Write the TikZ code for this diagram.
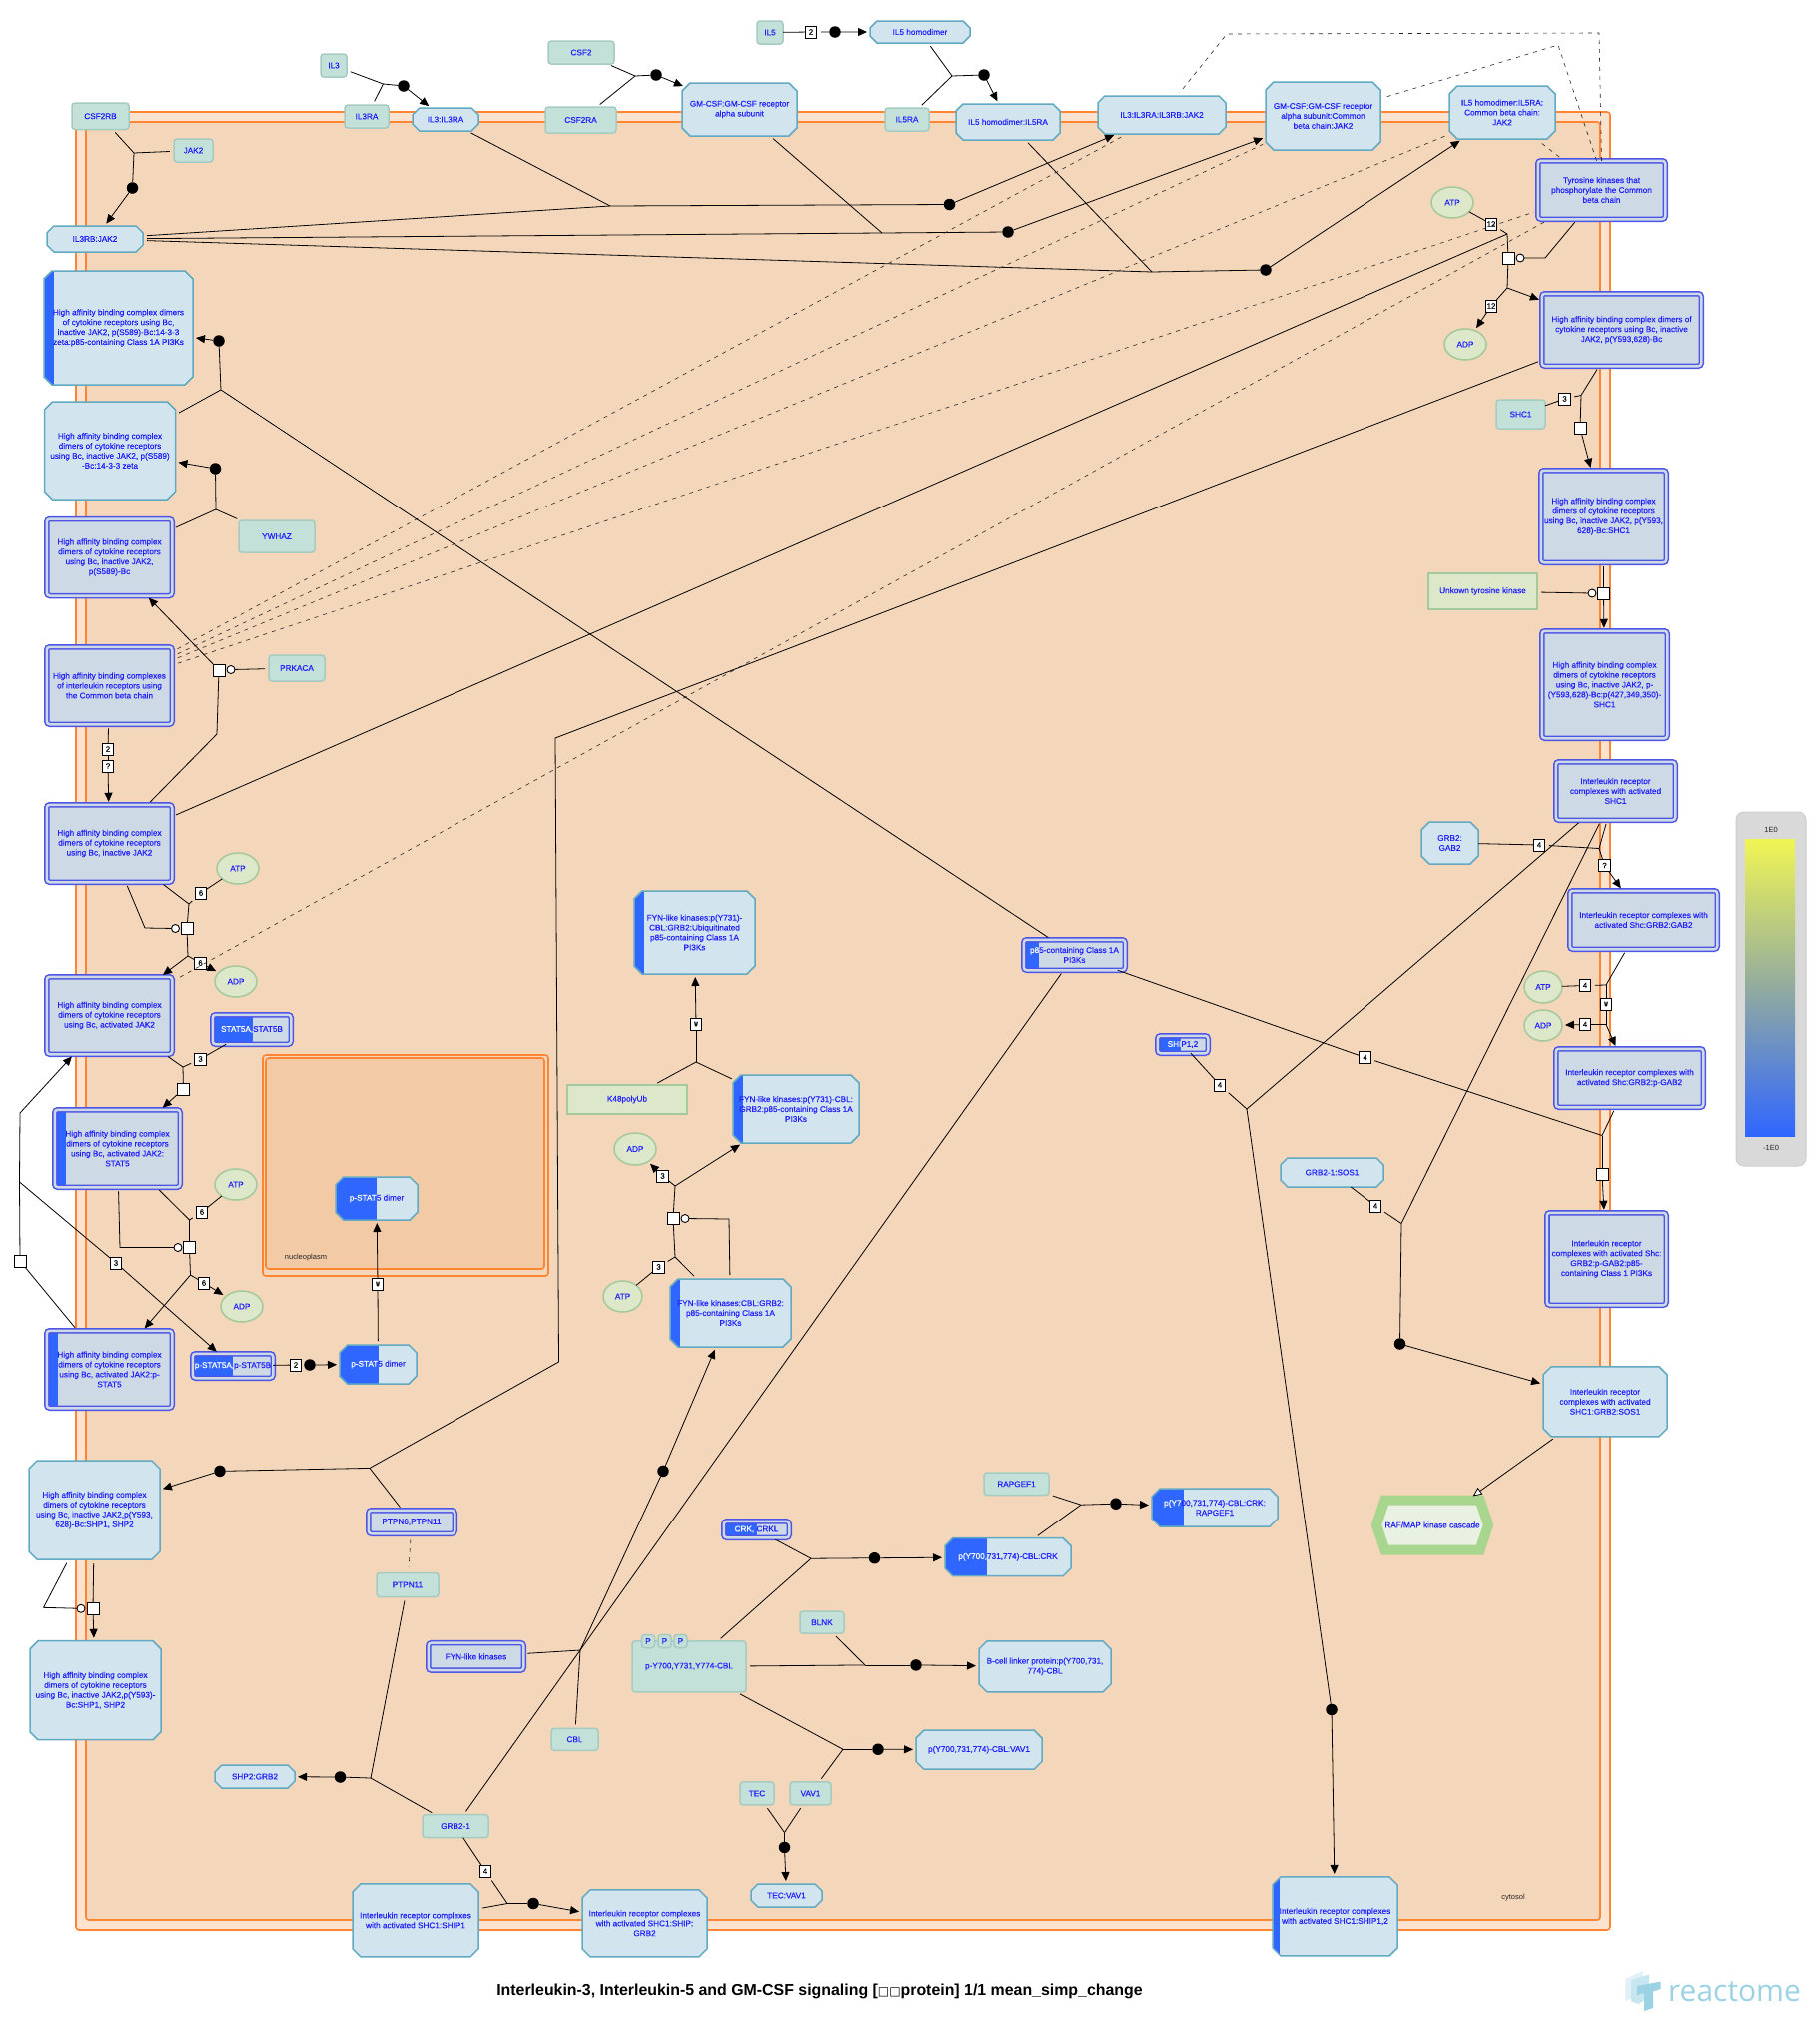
\documentclass[tikz,border=0pt]{standalone}
\usepackage{fontspec}
\usetikzlibrary{arrows.meta, shapes.geometric, shapes.misc, shapes.symbols}
\newfontfamily\lblfont[FakeBold=0.5]{Liberation Sans}
\newfontfamily\numfont[FakeBold=0.3]{Liberation Sans}
\newfontfamily\plainfont{Liberation Sans}
\newfontfamily\tofufont{DejaVu Sans}
\newfontfamily\logofont{Open Sans}
\definecolor{lblblue}{HTML}{2222FF}
\definecolor{stripeblue}{HTML}{2F66FF}
\definecolor{cplxfill}{HTML}{D2E5EF}
\definecolor{cplxline}{HTML}{62A9C2}
\definecolor{protfill}{HTML}{C3E0D9}
\definecolor{protline}{HTML}{A6CBC1}
\definecolor{chemfill}{HTML}{DDE7C9}
\definecolor{chemline}{HTML}{A4C99B}
\definecolor{csetfill}{HTML}{CDD9E4}
\definecolor{csetline}{HTML}{4D55E6}
\definecolor{compline}{HTML}{FF8533}
\definecolor{compfill}{HTML}{F4D6BA}
\definecolor{ringfill}{HTML}{FCE3CF}
\definecolor{nucfill}{HTML}{F3CAA6}
\definecolor{logoblue}{HTML}{9BD2E4}
\definecolor{rafline}{HTML}{A8D68F}
\definecolor{raffill}{HTML}{E9F2E2}
\definecolor{legtopc}{HTML}{F0F555}
\definecolor{legmidc}{HTML}{92AB9F}
\newcommand{\lbltext}{\lblfont\fontsize{8.2}{9.9}\selectfont}
\begin{document}
\begin{tikzpicture}[x=1pt, y=-1pt, inner sep=0pt, outer sep=0pt,
    sz/.style 2 args={minimum width=#1pt, minimum height=#2pt},
    csz/.style 2 args={minimum width=#1pt-5.5pt, minimum height=#2pt-5.5pt},
    stripe/.style={path picture={\fill[stripeblue] (path picture bounding box.north west) rectangle ([xshift=#1pt]path picture bounding box.south west);}}]
    \tikzstyle{base} = [align=center, font=\lbltext, text=lblblue]
    \tikzstyle{prot} = [base, draw=protline, fill=protfill, line width=1.5pt, rounded corners=3pt]
    \tikzstyle{cplx} = [base, chamfered rectangle, chamfered rectangle sep=4pt, draw=cplxline, fill=cplxfill, line width=1.5pt]
    \tikzstyle{cset} = [base, draw=csetline, fill=csetfill, double=csetfill, double distance=2.5pt, line width=1.5pt, rounded corners=3pt]
    \tikzstyle{chem} = [base, ellipse, draw=chemline, fill=chemfill, line width=1.5pt]
    \tikzstyle{othr} = [base, draw=chemline, fill=chemfill, line width=1.5pt]
    \tikzstyle{num} = [draw=black, fill=white, line width=0.9pt, minimum width=11.5pt, minimum height=12pt, font=\numfont\fontsize{7.8}{8}\selectfont]
    \tikzstyle{sq} = [draw=black, fill=white, line width=0.9pt, minimum size=12pt]
    \tikzstyle{dot} = [circle, fill=black, minimum size=11.5pt]
    \tikzstyle{cat} = [circle, draw=black, fill=white, line width=0.9pt, minimum size=8pt]
    \tikzstyle{rx} = [line width=0.8pt]
    \tikzstyle{ln} = [line width=0.8pt, shorten <=4pt]
    \tikzstyle{arw} = [line width=0.8pt, -{Triangle[length=9pt,width=8pt]}, shorten >=3pt]
    \tikzstyle{dsh} = [line width=0.6pt, dash pattern=on 4pt off 5pt, black!85, shorten <=6pt, shorten >=4pt]
    \tikzstyle{caplbl} = [font=\plainfont\fontsize{7.5}{9}\selectfont, text=black!85]

    \useasboundingbox (0,0) rectangle (1822,2030);

    % Compartments
    \node[draw=compline, fill=ringfill, line width=1.6pt, rounded corners=3pt, sz={1536}{1820}] (cytout) at (844,1022) {};
    \node[draw=compline, fill=compfill, line width=1.6pt, rounded corners=3pt, sz={1516}{1800}] (cytin) at (844,1022) {};
    \node[draw=compline, fill=compfill, line width=1.6pt, rounded corners=3pt, sz={286}{221}] (nucout) at (406,1166.5) {};
    \node[draw=compline, fill=nucfill, line width=1.6pt, rounded corners=3pt, sz={279}{211}] (nucin) at (405.5,1164.5) {};
    \node[caplbl] (cytlbl) at (1515,1900) {cytosol};
    \node[caplbl] (nuclbl) at (306,1259) {nucleoplasm};

    % Proteins
    \node[prot, sz={57}{26.5}] (csf2rb) at (100.5,116.25) {CSF2RB};
    \node[prot, sz={39}{23}] (jak2) at (193.5,150.5) {JAK2};
    \node[prot, sz={26}{23}] (il3) at (334,65.5) {IL3};
    \node[prot, sz={44}{23}] (il3ra) at (367,116.5) {IL3RA};
    \node[prot, sz={66}{23}] (csf2) at (582,52.5) {CSF2};
    \node[prot, sz={71}{26}] (csf2ra) at (581.5,120) {CSF2RA};
    \node[prot, sz={26}{23}] (il5) at (771,32.5) {IL5};
    \node[prot, sz={44}{23}] (il5ra) at (908,119.5) {IL5RA};
    \node[prot, sz={76}{32}] (ywhaz) at (277,537) {YWHAZ};
    \node[prot, sz={56}{26}] (prkaca) at (297,669) {PRKACA};
    \node[prot, sz={49}{29}] (shc1) at (1522.5,414.5) {SHC1};
    \node[prot, sz={62}{24}] (ptpn11) at (408,1586.5) {PTPN11};
    \node[prot, sz={44}{22}] (blnk) at (823,1624.2) {BLNK};
    \node[prot, sz={47}{22}] (cbl) at (575.5,1741.3) {CBL};
    \node[prot, sz={66}{23}] (grbone) at (456,1828.1) {GRB2-1};
    \node[prot, sz={34}{23}] (tec) at (758,1795.4) {TEC};
    \node[prot, sz={41}{23}] (vav1) at (811.5,1795.4) {VAV1};
    \node[prot, sz={65}{22.5}] (rapgef) at (1017.5,1485.3) {RAPGEF1};
    \node[prot, sz={114}{51}] (pcbl) at (690,1668.4) {p-Y700,Y731,Y774-CBL};
    \node[prot, sz={13}{13}] (pa) at (649,1643) {P};
    \node[prot, sz={13}{13}] (pb) at (665.5,1643) {P};
    \node[prot, sz={13}{13}] (pc) at (681.5,1643) {P};

    % Complexes
    \node[cplx, sz={66}{23}] (il3il3ra) at (446,119.5) {IL3:IL3RA};
    \node[cplx, sz={115}{53}] (gmcsf) at (740.5,109.5) {GM-CSF:GM-CSF receptor\\alpha subunit};
    \node[cplx, sz={100}{22}] (il5hom) at (921,32) {IL5 homodimer};
    \node[cplx, sz={96}{26}] (il3rb) at (95,239) {IL3RB:JAK2};
    \node[cplx, sz={104}{36}] (il5il5ra) at (1009,122) {IL5 homodimer:IL5RA};
    \node[cplx, sz={128}{38}] (iljak) at (1163,115) {IL3:IL3RA:IL3RB:JAK2};
    \node[cplx, sz={115}{68}] (gmjak) at (1324.5,116) {GM-CSF:GM-CSF receptor\\alpha subunit:Common\\beta chain:JAK2};
    \node[cplx, sz={106}{53}] (il5jak) at (1504,112.5) {IL5 homodimer:IL5RA:\\Common beta chain:\\JAK2};
    \node[cplx, sz={149}{114}, stripe=10] (ha3pi) at (118.5,328) {High affinity binding complex dimers\\of cytokine receptors using Bc,\\inactive JAK2, p(S589)-Bc:14-3-3\\zeta:p85-containing Class 1A PI3Ks};
    \node[cplx, sz={131}{98}] (ha14) at (110,451) {High affinity binding complex\\dimers of cytokine receptors\\using Bc, inactive JAK2, p(S589)\\-Bc:14-3-3 zeta};
    \node[cplx, sz={57}{42}] (grbgab) at (1451.5,844) {GRB2:\\GAB2};
    \node[cplx, sz={103}{29}] (sos) at (1333.5,1173.5) {GRB2-1:SOS1};
    \node[cplx, sz={124}{70}] (sossh) at (1607,1402.8) {Interleukin receptor\\complexes with activated\\SHC1:GRB2:SOS1};
    \node[cplx, sz={121}{83}, stripe=10] (fynub) at (695.5,933.5) {FYN-like kinases:p(Y731)-\\CBL:GRB2:Ubiquitinated\\p85-containing Class 1A\\PI3Ks};
    \node[cplx, sz={126}{68}, stripe=10] (fynp85) at (797,1110) {FYN-like kinases:p(Y731)-CBL:\\GRB2:p85-containing Class 1A\\PI3Ks};
    \node[cplx, sz={121}{68}, stripe=10] (fyncbl) at (731.5,1314) {FYN-like kinases:CBL:GRB2:\\p85-containing Class 1A\\PI3Ks};
    \node[cplx, sz={77}{39}, stripe=39] (pst1) at (378.5,1365.5) {\textcolor{white}{p-STAT}5 dimer};
    \node[cplx, sz={82}{43}, stripe=41] (pstn) at (377,1199.5) {\textcolor{white}{p-STAT}5 dimer};
    \node[cplx, sz={131}{99}] (hashp) at (94.5,1511.6) {High affinity binding complex\\dimers of cytokine receptors\\using Bc, inactive JAK2,p(Y593,\\628)-Bc:SHP1, SHP2};
    \node[cplx, sz={131}{99}] (hay593) at (95.5,1692.2) {High affinity binding complex\\dimers of cytokine receptors\\using Bc, inactive JAK2,p(Y593)-\\Bc:SHP1, SHP2};
    \node[cplx, sz={80}{23}] (shpgrb) at (255,1778.5) {SHP2:GRB2};
    \node[cplx, sz={71}{23}] (tecvav) at (787.5,1897.5) {TEC:VAV1};
    \node[cplx, sz={126}{73}] (irship1) at (416,1922.3) {Interleukin receptor complexes\\with activated SHC1:SHIP1};
    \node[cplx, sz={125}{67}] (irshipg) at (645.5,1925.3) {Interleukin receptor complexes\\with activated SHC1:SHIP:\\GRB2};
    \node[cplx, sz={126}{38}, stripe=32] (rapcx) at (1216,1509.1) {\textcolor{white}{p(Y7}00,731,774)-CBL:CRK:\\RAPGEF1};
    \node[cplx, sz={126}{38}, stripe=42] (crkcx) at (1009,1558.7) {\textcolor{white}{p(Y700,}731,774)-CBL:CRK};
    \node[cplx, sz={132}{51}] (blcx) at (1046,1668.4) {B-cell linker protein:p(Y700,731,\\774)-CBL};
    \node[cplx, sz={126}{39}] (vavcx) at (980,1751.7) {p(Y700,731,774)-CBL:VAV1};
    \node[cplx, sz={125}{79}, stripe=7] (irship12) at (1336.5,1918.4) {Interleukin receptor complexes\\with activated SHC1:SHIP1,2};

    % Sets
    \node[cset, csz={131}{82.5}] (hap) at (109.5,558) {High affinity binding complex\\dimers of cytokine receptors\\using Bc, inactive JAK2,\\p(S589)-Bc};
    \node[cset, csz={131}{83}] (hacom) at (109.5,686.5) {High affinity binding complexes\\of interleukin receptors using\\the Common beta chain};
    \node[cset, csz={133}{64}] (tyr) at (1603.5,190) {Tyrosine kinases that\\phosphorylate the Common\\beta chain};
    \node[cset, csz={165}{78}] (hay6) at (1623.5,330) {High affinity binding complex dimers of\\cytokine receptors using Bc, inactive\\JAK2, p(Y593,628)-Bc};
    \node[cset, csz={131}{98}] (hashc) at (1605.5,517) {High affinity binding complex\\dimers of cytokine receptors\\using Bc, inactive JAK2, p(Y593,\\628)-Bc:SHC1};
    \node[cset, csz={131}{113}] (hap4) at (1606.5,685.5) {High affinity binding complex\\dimers of cytokine receptors\\using Bc, inactive JAK2, p-\\(Y593,628)-Bc:p(427,349,350)-\\SHC1};
    \node[cset, csz={125}{64}] (irshc) at (1617.5,792) {Interleukin receptor\\complexes with activated\\SHC1};
    \node[cset, csz={153}{64}] (irgab) at (1645.5,921) {Interleukin receptor complexes with\\activated Shc:GRB2:GAB2};
    \node[cset, csz={153}{64}] (irpg) at (1631.5,1079) {Interleukin receptor complexes with\\activated Shc:GRB2:p-GAB2};
    \node[cset, csz={107}{36}, stripe=15] (p85) at (1075.5,956) {\textcolor{white}{p8}5-containing Class 1A\\PI3Ks};
    \node[cset, csz={56}{23}, stripe=23] (ship12) at (1184,1045.5) {\textcolor{white}{SHI}P1,2};
    \node[cset, csz={125}{98}, stripe=3] (irpi) at (1608.5,1260) {Interleukin receptor\\complexes with activated Shc:\\GRB2:p-GAB2:p85-\\containing Class 1 PI3Ks};
    \node[cset, csz={131}{83}] (hain) at (109.5,844.5) {High affinity binding complex\\dimers of cytokine receptors\\using Bc, inactive JAK2};
    \node[cset, csz={131}{83}] (haact) at (109.5,1016.5) {High affinity binding complex\\dimers of cytokine receptors\\using Bc, activated JAK2};
    \node[cset, csz={84}{35}, stripe=40] (stat) at (252,1030.5) {\textcolor{white}{STAT5A,}STAT5B};
    \node[cset, csz={131}{83}, stripe=11] (hast) at (117.5,1149.5) {High affinity binding complex\\dimers of cytokine receptors\\using Bc, activated JAK2:\\STAT5};
    \node[cset, csz={131}{83}, stripe=11] (hapst) at (109.5,1370.5) {High affinity binding complex\\dimers of cytokine receptors\\using Bc, activated JAK2:p-\\STAT5};
    \node[cset, csz={86}{30}, stripe=40] (pstat) at (233,1367) {\textcolor{white}{p-STAT5A,}p-STAT5B};
    \node[cset, csz={92}{29}] (ptpn6) at (412,1523.5) {PTPN6,PTPN11};
    \node[cset, csz={101}{33}] (fyn) at (476.5,1658.4) {FYN-like kinases};
    \node[cset, csz={71}{22}, stripe=33] (crk) at (757.5,1531) {\textcolor{white}{CRK,} CRKL};

    % Chemicals and others
    \node[chem, sz={42}{31}] (atpa) at (1454,202.5) {ATP};
    \node[chem, sz={42}{31}] (adpa) at (1467,344.5) {ADP};
    \node[chem, sz={42}{31}] (atpb) at (238,869.5) {ATP};
    \node[chem, sz={42}{31}] (adpb) at (236,982.5) {ADP};
    \node[chem, sz={42}{31}] (atpc) at (236,1185.5) {ATP};
    \node[chem, sz={42}{31}] (adpc) at (242,1307.5) {ADP};
    \node[chem, sz={42}{32}] (adpd) at (636,1150) {ADP};
    \node[chem, sz={39}{31}] (atpd) at (623.5,1297.5) {ATP};
    \node[chem, sz={38}{32}] (atpe) at (1545,988) {ATP};
    \node[chem, sz={38}{31}] (adpe) at (1545,1026.5) {ADP};
    \node[othr, sz={109}{36}] (unk) at (1484.5,592) {Unkown tyrosine kinase};
    \node[othr, sz={120}{29}] (k48) at (628,1100.5) {K48polyUb};
    \node[base, shape=signal, signal to=east and west, signal pointer angle=143, draw=rafline, fill=raffill, line width=10pt, sz={112}{50}] (raf) at (1434,1526.5) {RAF/MAP kinase cascade};

    % Reaction dots
    \node[dot] (d1) at (404,86) {};
    \node[dot] (d2) at (657,75) {};
    \node[dot] (d3) at (836,32) {};
    \node[dot] (d4) at (985,75) {};
    \node[dot] (d5) at (132.5,188) {};
    \node[dot] (d6) at (950.5,204.5) {};
    \node[dot] (d7) at (1009,232) {};
    \node[dot] (d8) at (1267,270) {};
    \node[dot] (d9) at (215.5,469) {};
    \node[dot] (d10) at (219,341) {};
    \node[dot] (d11) at (1333,1711.5) {};
    \node[dot] (d12) at (1401.5,1345) {};
    \node[dot] (d13) at (220,1472.4) {};
    \node[dot] (d14) at (310,1366) {};
    \node[dot] (d15) at (664,1472.4) {};
    \node[dot] (d16) at (340.5,1779) {};
    \node[dot] (d17) at (534,1905.5) {};
    \node[dot] (d18) at (875.5,1559.7) {};
    \node[dot] (d19) at (1117,1505.2) {};
    \node[dot] (d20) at (917,1666.9) {};
    \node[dot] (d21) at (879,1751.2) {};
    \node[dot] (d22) at (785.5,1849.4) {};

    % Reaction squares and catalyst circles
    \node[sq] (sq1) at (219,671) {};
    \node[sq] (sq2) at (1510,258) {};
    \node[sq] (sq3) at (1582,428.5) {};
    \node[sq] (sq4) at (1605.5,594) {};
    \node[sq] (sq5) at (1604,1175.5) {};
    \node[sq] (sq6) at (187,929.5) {};
    \node[sq] (sq7) at (183.5,1090) {};
    \node[sq] (sq8) at (189.5,1248.5) {};
    \node[sq] (sq9) at (20,1262) {};
    \node[sq] (sq10) at (674,1219.5) {};
    \node[sq] (sq11) at (93,1610.3) {};
    \node[cat] (c1) at (231,670.5) {};
    \node[cat] (c2) at (1522,258) {};
    \node[cat] (c3) at (1594,594) {};
    \node[cat] (c4) at (175.5,929.5) {};
    \node[cat] (c5) at (178,1248.5) {};
    \node[cat] (c6) at (686,1219.5) {};
    \node[cat] (c7) at (81,1610.3) {};

    % Stoichiometry boxes
    \node[num] (n1) at (812,32) {2};
    \node[num] (n2) at (108,750) {2};
    \node[num] (n3) at (108,767) {?};
    \node[num] (n4) at (1493,224) {12};
    \node[num] (n5) at (1493,306) {12};
    \node[num] (n6) at (1566.5,399) {3};
    \node[num] (n7) at (1541,846) {4};
    \node[num] (n8) at (1606.5,866.5) {?};
    \node[num] (n9) at (1587,986.5) {4};
    \node[num] (n10) at (1608,1005) {\scalebox{0.45}[0.9]{W}};
    \node[num] (n11) at (1587,1025.5) {4};
    \node[num] (n12) at (1366.5,1058.5) {4};
    \node[num] (n13) at (1221,1086) {4};
    \node[num] (n14) at (1377,1207) {4};
    \node[num] (n15) at (201,894) {6};
    \node[num] (n16) at (200.5,964) {6};
    \node[num] (n17) at (200.5,1060) {3};
    \node[num] (n18) at (202,1213) {6};
    \node[num] (n19) at (204,1284) {6};
    \node[num] (n20) at (116,1264) {3};
    \node[num] (n21) at (296,1366) {2};
    \node[num] (n22) at (378,1285) {\scalebox{0.45}[0.9]{W}};
    \node[num] (n23) at (697,1025) {\scalebox{0.45}[0.9]{W}};
    \node[num] (n24) at (659.5,1268) {3};
    \node[num] (n25) at (663.5,1177) {3};
    \node[num] (n26) at (486,1873.2) {4};

    % Junctions
    \coordinate (j1) at (383.5,84);
    \coordinate (j2) at (636,76);
    \coordinate (j3) at (953,76);
    \coordinate (j4) at (134,153);
    \coordinate (j5) at (611,206);
    \coordinate (j6) at (883,233);
    \coordinate (j7) at (1153,272);
    \coordinate (j8) at (216,510);
    \coordinate (j9) at (221,390);
    \coordinate (j10) at (217,735);
    \coordinate (j11) at (1509,234);
    \coordinate (j12) at (1547,258);
    \coordinate (j13) at (1509,288);
    \coordinate (j14) at (1583,395.5);
    \coordinate (j15) at (1601,849.5);
    \coordinate (j16) at (1608,986);
    \coordinate (j17) at (1608,1025.5);
    \coordinate (j18) at (1604,1136.5);
    \coordinate (j19) at (1248,1110);
    \coordinate (j20) at (1403,1224.5);
    \coordinate (j21) at (370,1469.4);
    \coordinate (j22) at (556,739);
    \coordinate (j23) at (559.5,1363);
    \coordinate (j24) at (189,905);
    \coordinate (j25) at (188,957);
    \coordinate (j26) at (145,929);
    \coordinate (j27) at (183,1068);
    \coordinate (j28) at (189.5,1221);
    \coordinate (j29) at (190.5,1276);
    \coordinate (j30) at (120,1248.5);
    \coordinate (j31) at (20,1114);
    \coordinate (j32) at (19.5,1183);
    \coordinate (j33) at (697,1063);
    \coordinate (j34) at (676,1258);
    \coordinate (j35) at (676,1187);
    \coordinate (j36) at (730,1220);
    \coordinate (j37) at (581,1652);
    \coordinate (j38) at (371,1780);
    \coordinate (j39) at (508,1905.5);
    \coordinate (j40) at (812,1560.2);
    \coordinate (j41) at (1082,1506.2);
    \coordinate (j42) at (866,1666.9);
    \coordinate (j43) at (844,1751.2);
    \coordinate (j44) at (785.5,1834.5);
    \coordinate (j45) at (1601,33);
    \coordinate (j46) at (1228,34);
    \coordinate (j47) at (1560,45);
    \coordinate (j48) at (43.5,1609.3);

    % Receptor assembly
    \draw[ln] (il3) -- (j1);
    \draw[ln] (il3ra) -- (j1);
    \draw[rx] (j1) -- (d1);
    \draw[arw] (d1) -- (il3il3ra);
    \draw[ln] (csf2) -- (j2);
    \draw[ln] (csf2ra) -- (j2);
    \draw[rx] (j2) -- (d2);
    \draw[arw] (d2) -- (gmcsf);
    \draw[ln] (il5) -- (n1) -- (d3);
    \draw[arw] (d3) -- (il5hom);
    \draw[ln] (il5hom) -- (j3);
    \draw[ln] (il5ra) -- (j3);
    \draw[rx] (j3) -- (d4);
    \draw[arw] (d4) -- (il5il5ra);
    \draw[ln] (csf2rb) -- (j4);
    \draw[ln] (jak2) -- (j4);
    \draw[rx] (j4) -- (d5);
    \draw[arw] (d5) -- (il3rb);
    \draw[ln] (il3rb) -- (j5);
    \draw[ln] (il3il3ra) -- (j5);
    \draw[rx] (j5) -- (d6);
    \draw[arw] (d6) -- (iljak);
    \draw[ln] (il3rb) -- (j6);
    \draw[ln] (gmcsf) -- (j6);
    \draw[rx] (j6) -- (d7);
    \draw[arw] (d7) -- (gmjak);
    \draw[ln] (il3rb) -- (j7);
    \draw[ln] (il5il5ra) -- (j7);
    \draw[rx] (j7) -- (d8);
    \draw[arw] (d8) -- (il5jak);

    % Catalyst links
    \draw[dsh] (hacom) -- (iljak);
    \draw[dsh] (hacom) -- (gmjak);
    \draw[dsh] (hacom) -- (il5jak);
    \draw[dsh] (hacom) -- (tyr);
    \draw[dsh] (tyr) -- (haact);
    \draw[dsh] (tyr) -- (il5jak);
    \draw[dsh, shorten <=0pt] (tyr.north) -- (j45) -- (j46) -- (iljak);
    \draw[dsh, shorten <=0pt] ([xshift=-5pt]tyr.north) -- (j47) -- (gmjak);
    \draw[dsh, shorten >=6pt] (ptpn6) -- (ptpn11);

    % Common beta chain, left column
    \draw[ln] (hap) -- (j8);
    \draw[ln] (ywhaz) -- (j8);
    \draw[rx] (j8) -- (d9);
    \draw[arw] (d9) -- (ha14);
    \draw[ln] (ha14) -- (j9);
    \draw[ln] (p85) -- (j9);
    \draw[rx] (j9) -- (d10);
    \draw[arw] (d10) -- (ha3pi);
    \draw[ln] (hain) -- (j10) -- (sq1);
    \draw[ln] (prkaca) -- (c1);
    \draw[arw] (sq1) -- (hap);
    \draw[ln] (hacom) -- (n2);
    \draw[rx] (n2) -- (n3);
    \draw[arw] (n3) -- (hain);
    \draw[ln] (hain) -- (j24);
    \draw[ln] (atpb) -- (n15) -- (j24);
    \draw[rx] (j24) -- (sq6) -- (j25);
    \draw[ln] (hain) -- (j26) -- (c4);
    \draw[arw] (j25) -- (haact);
    \draw[rx] (j25) -- (n16);
    \draw[arw] (n16) -- (adpb);
    \draw[ln] (stat) -- (n17) -- (j27);
    \draw[ln] (haact) -- (j27);
    \draw[rx] (j27) -- (sq7);
    \draw[arw] (sq7) -- (hast);
    \draw[ln] (hast) -- (j28);
    \draw[ln] (atpc) -- (n18) -- (j28);
    \draw[rx] (j28) -- (sq8) -- (j29);
    \draw[ln] (hast) -- (j30) -- (c5);
    \draw[arw] (j29) -- (hapst);
    \draw[rx] (j29) -- (n19);
    \draw[arw] (n19) -- (adpc);
    \draw[ln] (hapst) -- (sq9);
    \draw[rx] (sq9) -- (j32) -- (j31);
    \draw[arw] (j31) -- (haact);
    \draw[rx] (j32) -- (n20);
    \draw[arw] (n20) -- (pstat);
    \draw[ln] (pstat) -- (n21) -- (d14);
    \draw[arw] (d14) -- (pst1);
    \draw[ln] (pst1) -- (n22);
    \draw[arw] (n22) -- (pstn);

    % Right column
    \draw[ln] (hain) -- (j11);
    \draw[ln] (atpa) -- (n4) -- (j11);
    \draw[rx] (j11) -- (sq2) -- (j13);
    \draw[ln] (tyr) -- (j12) -- (c2);
    \draw[arw] (j13) -- (hay6);
    \draw[rx] (j13) -- (n5);
    \draw[arw] (n5) -- (adpa);
    \draw[ln] (hay6) -- (j14);
    \draw[ln] (shc1) -- (n6) -- (j14);
    \draw[rx] (j14) -- (sq3);
    \draw[arw] (sq3) -- (hashc);
    \draw[ln] (unk) -- (c3);
    \draw[ln] (hashc) -- (sq4);
    \draw[arw] (sq4) -- (hap4);
    \draw[ln] (grbgab) -- (n7) -- (j15);
    \draw[ln] (irshc) -- (j15);
    \draw[rx] (j15) -- (n8);
    \draw[arw] (n8) -- (irgab);
    \draw[ln] (irgab) -- (j16);
    \draw[ln] (atpe) -- (n9) -- (j16);
    \draw[rx] (j16) -- (n10) -- (j17);
    \draw[rx] (j17) -- (n11);
    \draw[arw] (n11) -- (adpe);
    \draw[arw] (j17) -- (irpg);
    \draw[ln] (p85) -- (n12) -- (j18);
    \draw[ln] (irpg) -- (j18);
    \draw[rx] (j18) -- (sq5);
    \draw[arw] (sq5) -- (irpi);
    \draw[ln] (ship12) -- (n13) -- (j19);
    \draw[ln] (irshc) -- (j19);
    \draw[rx] (j19) -- (d11);
    \draw[arw] (d11) -- (irship12);
    \draw[ln] (sos) -- (n14) -- (j20);
    \draw[ln] (irshc) -- (j20);
    \draw[rx] (j20) -- (d12);
    \draw[arw] (d12) -- (sossh);
    \draw[line width=0.8pt, shorten <=4pt, shorten >=7pt, -{Triangle[open, fill=white, length=9pt, width=8pt]}] (sossh) -- (raf);

    % SHP and FYN branch
    \draw[ln] (hay6) -- (j22) -- (j23) -- (j21);
    \draw[ln] (ptpn6) -- (j21);
    \draw[rx] (j21) -- (d13);
    \draw[arw] (d13) -- (hashp);
    \draw[ln] (hashp) -- (sq11);
    \draw[arw] (sq11) -- (hay593);
    \draw[ln] (hashp) -- (j48) -- (c7);
    \draw[ln] (fynp85) -- (j33);
    \draw[ln] (k48) -- (j33);
    \draw[rx] (j33) -- (n23);
    \draw[arw] (n23) -- (fynub);
    \draw[ln] (fyncbl) -- (j34);
    \draw[ln] (atpd) -- (n24) -- (j34);
    \draw[rx] (j34) -- (sq10) -- (j35);
    \draw[ln] (fyncbl) -- (j36) -- (c6);
    \draw[arw] (j35) -- (fynp85);
    \draw[rx] (j35) -- (n25);
    \draw[arw] (n25) -- (adpd);
    \draw[ln] (fyn) -- (j37);
    \draw[ln] (cbl) -- (j37);
    \draw[ln] (grbone) -- (j37);
    \draw[ln] (p85) -- (j37);
    \draw[rx] (j37) -- (d15);
    \draw[arw] (d15) -- (fyncbl);
    \draw[ln] (ptpn11) -- (j38);
    \draw[ln] (grbone) -- (j38);
    \draw[rx] (j38) -- (d16);
    \draw[arw] (d16) -- (shpgrb);
    \draw[ln] (grbone) -- (n26) -- (j39);
    \draw[ln] (irship1) -- (j39);
    \draw[rx] (j39) -- (d17);
    \draw[arw] (d17) -- (irshipg);

    % CBL branch
    \draw[ln] (crk) -- (j40);
    \draw[ln] (pcbl) -- (j40);
    \draw[rx] (j40) -- (d18);
    \draw[arw] (d18) -- (crkcx);
    \draw[ln] (rapgef) -- (j41);
    \draw[ln] (crkcx) -- (j41);
    \draw[rx] (j41) -- (d19);
    \draw[arw] (d19) -- (rapcx);
    \draw[ln] (blnk) -- (j42);
    \draw[ln] (pcbl) -- (j42);
    \draw[rx] (j42) -- (d20);
    \draw[arw] (d20) -- (blcx);
    \draw[ln] (pcbl) -- (j43);
    \draw[ln] (vav1) -- (j43);
    \draw[rx] (j43) -- (d21);
    \draw[arw] (d21) -- (vavcx);
    \draw[ln] (tec) -- (j44);
    \draw[ln] (vav1) -- (j44);
    \draw[rx] (j44) -- (d22);
    \draw[arw] (d22) -- (tecvav);

    % Legend
    \node[draw=black!20, fill=black!15, line width=1pt, rounded corners=8pt, sz={70}{354}] (legend) at (1773,990) {};
    \node[top color=legtopc, bottom color=stripeblue, middle color=legmidc, shading angle=0, sz={50}{297}] (legbar) at (1772,988.5) {};
    \node[caplbl] (legtop) at (1773,831) {1E0};
    \node[caplbl] (legbot) at (1773,1149) {-1E0};

    % Title and logo
    \node[font=\plainfont\bfseries\fontsize{15.9}{18}\selectfont, text=black] (title) at (820.5,1993.3) {Interleukin-3, Interleukin-5 and GM-CSF signaling [{\tofufont\fontsize{12}{12}\selectfont □□}protein] 1/1 mean\_simp\_change};
    \fill[logoblue!30] (1627.3,1980.7) -- (1645,1973) -- (1645,1997) -- (1627.3,2003) -- cycle;
    \fill[logoblue!55] (1633,1982) -- (1651,1976.5) -- (1651,2000) -- (1640,2006) -- (1633,2003) -- cycle;
    \fill[logoblue] (1639,1988) -- (1662.7,1983.5) -- (1662.7,1991) -- (1655,1993.5) -- (1655,2010) -- (1646,2013) -- (1646,1995) -- (1639,1997) -- cycle;
    \node[font=\logofont\fontsize{30}{32}\selectfont, text=logoblue, anchor=base] (logo) at (1736.5,2003) {reactome};
\end{tikzpicture}
\end{document}
